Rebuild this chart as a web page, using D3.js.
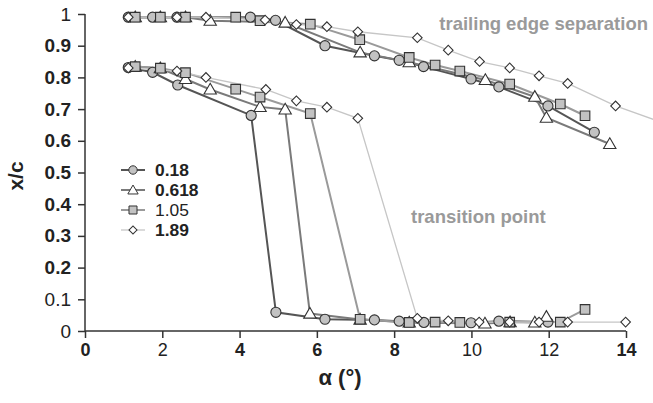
<!DOCTYPE html>
<html>
<head>
<meta charset="utf-8">
<script src="https://cdn.jsdelivr.net/npm/d3@7"></script>
<style>
  body { margin: 0; background: #fff; }
  svg { display: block; font-family: "Liberation Sans", Arial, sans-serif; }
</style>
</head>
<body>
<div id="grafica"></div>
<script>
// series (Re, millions) and the angle / x/c readings
var series = ['0.18', '0.618', '1.05', '1.89'];

// trailing edge separation branch
var sepX = [
  [1.12, 1.75, 2.38, 4.28, 4.93, 6.21, 7.49, 8.13, 8.76, 9.99, 10.71, 11.98, 13.18],
  [1.30, 1.95, 2.60, 3.24, 5.18, 7.12, 8.39, 10.36, 11.64, 11.94, 13.58],
  [1.30, 1.95, 2.60, 3.90, 4.53, 5.83, 7.11, 8.39, 9.06, 9.70, 10.99, 12.30, 12.94],
  [1.12, 2.38, 3.13, 4.66, 5.47, 6.26, 7.06, 8.60, 9.40, 10.21, 10.99, 11.75, 12.49, 13.73, 15.0]
];
var sepY = [
  [0.990, 0.990, 0.990, 0.990, 0.980, 0.900, 0.868, 0.854, 0.834, 0.795, 0.770, 0.710, 0.627],
  [0.990, 0.990, 0.990, 0.979, 0.973, 0.879, 0.848, 0.792, 0.739, 0.673, 0.590],
  [0.990, 0.990, 0.990, 0.990, 0.979, 0.968, 0.919, 0.863, 0.839, 0.820, 0.779, 0.716, 0.679],
  [0.990, 0.990, 0.990, 0.981, 0.967, 0.960, 0.944, 0.925, 0.886, 0.850, 0.830, 0.805, 0.781, 0.710, 0.655]
];

// transition point branch
var trX = [
  [1.12, 1.75, 2.40, 4.30, 4.94, 6.21, 7.49, 8.13, 8.77, 9.99, 10.71, 11.98],
  [1.30, 1.95, 2.60, 3.24, 4.53, 5.18, 5.82, 7.12, 8.39, 10.35, 11.00, 11.64, 11.94],
  [1.30, 1.95, 2.60, 3.90, 4.53, 5.83, 7.12, 8.39, 9.06, 9.70, 10.99, 12.30, 12.94],
  [1.12, 2.38, 3.13, 4.68, 5.47, 6.26, 7.06, 8.60, 9.40, 10.20, 10.99, 11.75, 12.49, 13.99]
];
var trY = [
  [0.831, 0.816, 0.776, 0.680, 0.059, 0.037, 0.035, 0.031, 0.027, 0.026, 0.031, 0.028],
  [0.834, 0.829, 0.795, 0.762, 0.707, 0.699, 0.055, 0.036, 0.027, 0.024, 0.028, 0.027, 0.045],
  [0.834, 0.829, 0.815, 0.763, 0.738, 0.686, 0.037, 0.027, 0.028, 0.027, 0.028, 0.028, 0.068],
  [0.830, 0.820, 0.800, 0.762, 0.726, 0.706, 0.671, 0.040, 0.032, 0.028, 0.028, 0.028, 0.028, 0.028]
];

var xTicks = [0, 2, 4, 6, 8, 10, 12, 14];
var yTicks = [0, 0.1, 0.2, 0.3, 0.4, 0.5, 0.6, 0.7, 0.8, 0.9, 1];
var xTicksNormal = [2, 10, 12];
var yTicksNormal = [0, 0.1, 1];

(function(){
  var W = 653, H = 403;
  var m = {t: 14, r: 27, b: 72, l: 85};

  var x = d3.scaleLinear().domain([0, 14]).range([m.l, W - m.r]);
  var y = d3.scaleLinear().domain([0, 1]).range([H - m.b, m.t]);

  var lineColor = ['#555', '#7a7a7a', '#9a9a9a', '#c6c6c6'];
  var lineWidth = [2, 2, 2, 1.3];
  // diamond = square turned 45°
  var symbols = [d3.symbolCircle, d3.symbolTriangle, d3.symbolSquare, d3.symbolSquare];
  var symRot = [0, 0, 0, 45];
  var symSize = [80, 66, 92, 46];
  var fills = ['#c2c2c2', '#fff', '#c2c2c2', '#fff'];

  var svg = d3.select('#grafica').append('svg')
    .attr('width', W).attr('height', H);

  // axes
  var xAxis = svg.append('g')
    .attr('transform', 'translate(0,' + (H - m.b) + ')')
    .call(d3.axisBottom(x).tickValues(xTicks).tickSize(7).tickPadding(5).tickFormat(d3.format('d')));
  var yAxis = svg.append('g')
    .attr('transform', 'translate(' + m.l + ',0)')
    .call(d3.axisLeft(y).tickValues(yTicks).tickSize(7).tickPadding(7).tickFormat(function(d){ return d === 0 || d === 1 ? d : d3.format('.1f')(d); }));

  [xAxis, yAxis].forEach(function(a){
    a.select('.domain').attr('stroke', '#333').attr('stroke-width', 1.5);
    a.selectAll('.tick line').attr('stroke', '#333').attr('stroke-width', 1.5);
    a.selectAll('.tick text').attr('fill', '#222');
  });
  xAxis.selectAll('.tick text').attr('font-size', 18)
    .attr('font-weight', function(d){ return xTicksNormal.indexOf(d) > -1 ? 'normal' : 'bold'; });
  yAxis.selectAll('.tick text').attr('font-size', 19)
    .attr('font-weight', function(d){ return yTicksNormal.indexOf(d) > -1 ? 'normal' : 'bold'; });
  // axis lines stop at the last ticks
  xAxis.select('.domain').attr('d', 'M' + x(0) + ',0H' + x(14));
  yAxis.select('.domain').attr('d', 'M0,' + y(0) + 'V' + y(1));

  // axis titles
  svg.append('text')
    .attr('x', 340).attr('y', 385)
    .attr('text-anchor', 'middle')
    .attr('font-size', 22).attr('font-weight', 'bold').attr('fill', '#222')
    .text('α (°)');
  svg.append('text')
    .attr('transform', 'translate(23,176) rotate(-90)')
    .attr('text-anchor', 'middle')
    .attr('font-size', 21).attr('font-weight', 'bold').attr('fill', '#222')
    .text('x/c');

  // notes
  svg.append('text')
    .attr('x', 648).attr('y', 30)
    .attr('text-anchor', 'end')
    .attr('font-size', 18.5).attr('font-weight', 'bold').attr('fill', '#9a9a9a')
    .text('trailing edge separation');
  svg.append('text')
    .attr('x', 411).attr('y', 223)
    .attr('font-size', 18.5).attr('font-weight', 'bold').attr('fill', '#9a9a9a')
    .text('transition point');

  var line = d3.line()
    .x(function(d){ return x(d[0]); })
    .y(function(d){ return y(d[1]); });

  var plot = svg.append('g');

  var dibujaRama = function(xs, ys) {
    series.forEach(function(s, i){
      var pts = d3.zip(xs[i], ys[i]);
      plot.append('path')
        .attr('d', line(pts))
        .attr('fill', 'none')
        .attr('stroke', lineColor[i])
        .attr('stroke-width', lineWidth[i]);
    });
  };

  var dibujaMarcas = function(xs, ys) {
    series.forEach(function(s, i){
      var pts = d3.zip(xs[i], ys[i]);
      plot.selectAll(null).data(pts)
        .enter().append('path')
        .attr('d', d3.symbol().type(symbols[i]).size(symSize[i]))
        .attr('transform', function(d){
          var r = i === 1 ? 1 : 0;
          return 'translate(' + x(d[0]) + ',' + (y(d[1]) + r) + ') rotate(' + symRot[i] + ')';
        })
        .attr('fill', fills[i])
        .attr('stroke', '#333')
        .attr('stroke-width', 1.1);
    });
  };

  dibujaRama(sepX, sepY);
  dibujaRama(trX, trY);
  dibujaMarcas(sepX, sepY);
  dibujaMarcas(trX, trY);

  // legend
  var leg = svg.append('g').attr('transform', 'translate(121,170)');
  var legWeight = ['bold', 'bold', 'normal', 'bold'];
  series.forEach(function(s, i){
    var row = leg.append('g').attr('transform', 'translate(0,' + (i * 20) + ')');
    row.append('line')
      .attr('x1', 0).attr('x2', 24).attr('y1', 0).attr('y2', 0)
      .attr('stroke', lineColor[i]).attr('stroke-width', lineWidth[i]);
    row.append('path')
      .attr('d', d3.symbol().type(symbols[i]).size(symSize[i] * 0.7))
      .attr('transform', 'translate(12,' + (i === 1 ? 1 : 0) + ') rotate(' + symRot[i] + ')')
      .attr('fill', fills[i]).attr('stroke', '#333').attr('stroke-width', 1);
    row.append('text')
      .attr('x', 34).attr('y', 6.3)
      .attr('font-size', 17.4).attr('font-weight', legWeight[i]).attr('fill', '#222')
      .text(s);
  });
})();
</script>
</body>
</html>
